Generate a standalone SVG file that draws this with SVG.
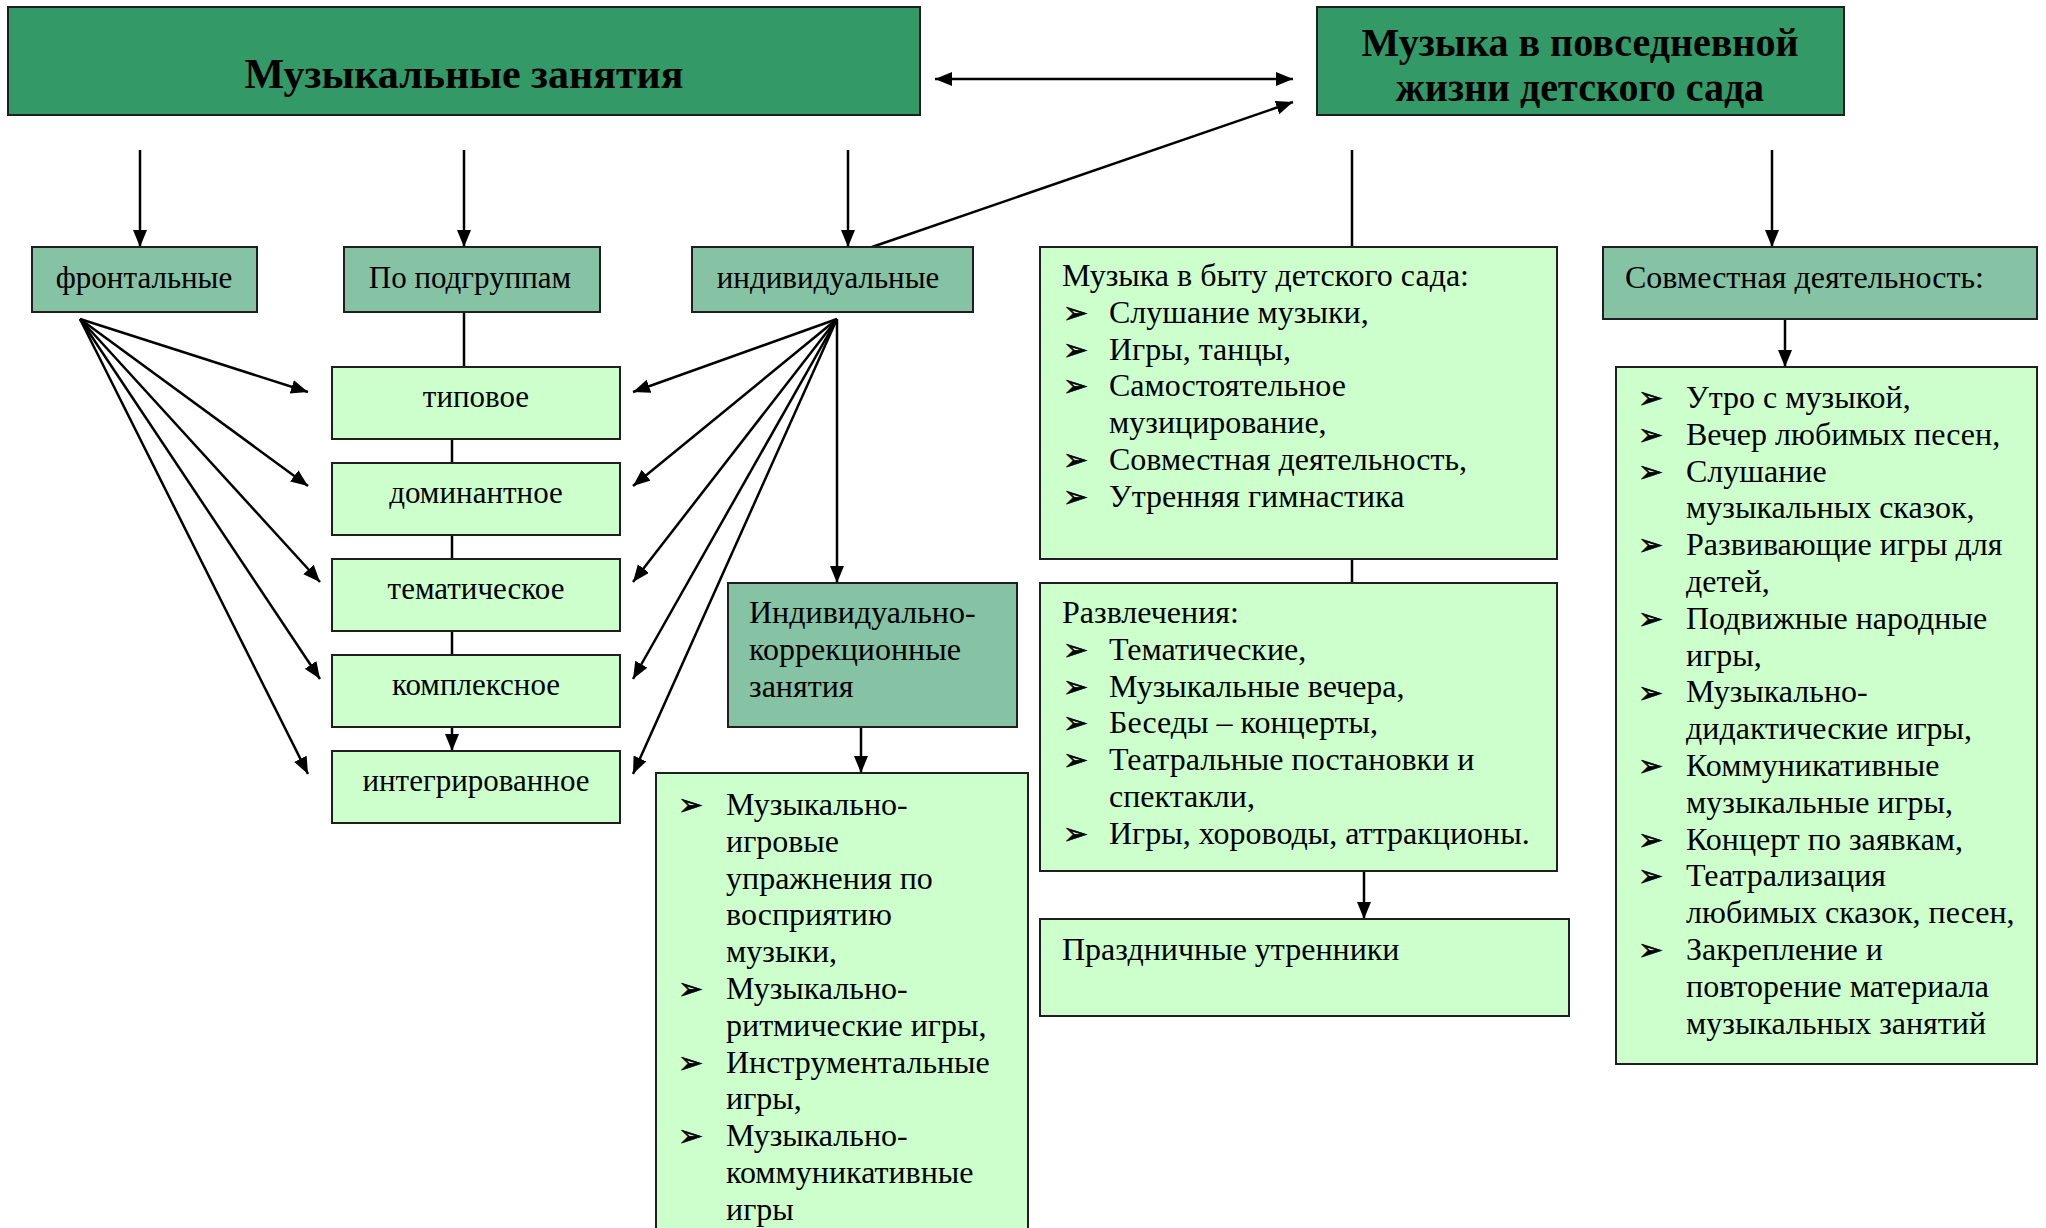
<svg xmlns="http://www.w3.org/2000/svg" width="2046" height="1228" viewBox="0 0 2046 1228">
<style>
.dark{fill:#339966;stroke:#1f1f1f;stroke-width:2}
.mid{fill:#86c2a4;stroke:#1f1f1f;stroke-width:2}
.light{fill:#ccffcc;stroke:#1f1f1f;stroke-width:2}
.t{font-family:"Liberation Serif","Times New Roman",serif;fill:#000}
.title{font-weight:bold}
.c{text-anchor:middle}
.s31{font-size:31px}
.s32{font-size:32px}
.b{font-family:"DejaVu Sans",sans-serif;font-size:30px;fill:#000;stroke:#000;stroke-width:0.6}
.ln{stroke:#000;stroke-width:2.5;fill:none}
.ar{stroke:#000;stroke-width:2.5;fill:none;marker-end:url(#ah)}
</style>
<defs>
<marker id="ah" markerUnits="userSpaceOnUse" markerWidth="20" markerHeight="16" refX="17" refY="7" orient="auto">
<path d="M0,0 L17,7 L0,14 z" fill="#000"/>
</marker>
<marker id="ahs" markerUnits="userSpaceOnUse" markerWidth="20" markerHeight="16" refX="0" refY="7" orient="auto">
<path d="M17,0 L0,7 L17,14 z" fill="#000"/>
</marker>
</defs>
<rect width="2046" height="1228" fill="#fff"/>

<g id="connectors">
<line class="ar" x1="935" y1="79" x2="1293" y2="79" marker-start="url(#ahs)"/>
<line class="ar" x1="872" y1="247" x2="1293" y2="102"/>
<line class="ar" x1="140" y1="150" x2="140" y2="247"/>
<line class="ar" x1="464" y1="150" x2="464" y2="247"/>
<line class="ar" x1="848" y1="150" x2="848" y2="247"/>
<line class="ln" x1="1352" y1="150" x2="1352" y2="247"/>
<line class="ar" x1="1772" y1="150" x2="1772" y2="247"/>
<line class="ln" x1="464" y1="312" x2="464" y2="367"/>
<line class="ln" x1="452" y1="439" x2="452" y2="463"/>
<line class="ln" x1="452" y1="535" x2="452" y2="559"/>
<line class="ln" x1="452" y1="631" x2="452" y2="655"/>
<line class="ar" x1="452" y1="727" x2="452" y2="751"/>
<line class="ar" x1="80" y1="319" x2="308" y2="392"/>
<line class="ar" x1="80" y1="319" x2="308" y2="486"/>
<line class="ar" x1="80" y1="319" x2="320" y2="582"/>
<line class="ar" x1="80" y1="319" x2="320" y2="679"/>
<line class="ar" x1="80" y1="319" x2="308" y2="774"/>
<line class="ar" x1="837" y1="319" x2="633" y2="392"/>
<line class="ar" x1="837" y1="319" x2="633" y2="486"/>
<line class="ar" x1="837" y1="319" x2="633" y2="582"/>
<line class="ar" x1="837" y1="319" x2="633" y2="679"/>
<line class="ar" x1="837" y1="319" x2="633" y2="774"/>
<line class="ar" x1="837" y1="319" x2="837" y2="583"/>
<line class="ar" x1="861" y1="727" x2="861" y2="773"/>
<line class="ln" x1="1352" y1="535" x2="1352" y2="583"/>
<line class="ar" x1="1364" y1="871" x2="1364" y2="919"/>
<line class="ar" x1="1785" y1="319" x2="1785" y2="367"/>
</g>

<g id="n-music-lessons">
<rect class="dark" x="8" y="7" width="912" height="108"/>
<text class="t title c" x="464" y="88" font-size="42">Музыкальные занятия</text>
</g>

<g id="n-music-daily">
<rect class="dark" x="1317" y="7" width="527" height="108"/>
<text class="t title c" x="1580" y="56" font-size="40">Музыка в повседневной</text>
<text class="t title c" x="1580" y="101" font-size="40">жизни детского сада</text>
</g>

<g id="n-frontal">
<rect class="mid" x="32" y="247" width="225" height="65"/>
<text class="t s31 c" x="144" y="288">фронтальные</text>
</g>
<g id="n-subgroups">
<rect class="mid" x="344" y="247" width="256" height="65"/>
<text class="t s31 c" x="470" y="288">По подгруппам</text>
</g>
<g id="n-individual">
<rect class="mid" x="692" y="247" width="281" height="65"/>
<text class="t s31 c" x="828" y="288">индивидуальные</text>
</g>

<g id="n-typical">
<rect class="light" x="332" y="367" width="288" height="72"/>
<text class="t s31 c" x="476" y="407">типовое</text>
</g>
<g id="n-dominant">
<rect class="light" x="332" y="463" width="288" height="72"/>
<text class="t s31 c" x="476" y="503">доминантное</text>
</g>
<g id="n-thematic">
<rect class="light" x="332" y="559" width="288" height="72"/>
<text class="t s31 c" x="476" y="599">тематическое</text>
</g>
<g id="n-complex">
<rect class="light" x="332" y="655" width="288" height="72"/>
<text class="t s31 c" x="476" y="695">комплексное</text>
</g>
<g id="n-integrated">
<rect class="light" x="332" y="751" width="288" height="72"/>
<text class="t s31 c" x="476" y="791">интегрированное</text>
</g>

<g id="n-correction">
<rect class="mid" x="728" y="583" width="289" height="144"/>
<text class="t s32" x="749" y="623">Индивидуально-</text>
<text class="t s32" x="749" y="660">коррекционные</text>
<text class="t s32" x="749" y="697">занятия</text>
</g>

<g id="n-correction-list">
<rect class="light" x="656" y="773" width="372" height="470"/>
<text class="b" x="678" y="815">➢</text>
<text class="b" x="678" y="999">➢</text>
<text class="b" x="678" y="1073">➢</text>
<text class="b" x="678" y="1146">➢</text>
<text class="t s32" x="726" y="815">Музыкально-<tspan x="726" dy="36.8">игровые</tspan><tspan x="726" dy="36.8">упражнения по</tspan><tspan x="726" dy="36.8">восприятию</tspan><tspan x="726" dy="36.8">музыки,</tspan><tspan x="726" dy="36.8">Музыкально-</tspan><tspan x="726" dy="36.8">ритмические игры,</tspan><tspan x="726" dy="36.8">Инструментальные</tspan><tspan x="726" dy="36.8">игры,</tspan><tspan x="726" dy="36.8">Музыкально-</tspan><tspan x="726" dy="36.8">коммуникативные</tspan><tspan x="726" dy="36.8">игры</tspan></text>
</g>

<g id="n-daily-life">
<rect class="light" x="1040" y="247" width="517" height="312"/>
<text class="t s32" x="1062" y="286">Музыка в быту детского сада:</text>
<text class="b" x="1063" y="323">➢</text>
<text class="b" x="1063" y="360">➢</text>
<text class="b" x="1063" y="396">➢</text>
<text class="b" x="1063" y="470">➢</text>
<text class="b" x="1063" y="507">➢</text>
<text class="t s32" x="1109" y="322.8">Слушание музыки,<tspan x="1109" dy="36.8">Игры, танцы,</tspan><tspan x="1109" dy="36.8">Самостоятельное</tspan><tspan x="1109" dy="36.8">музицирование,</tspan><tspan x="1109" dy="36.8">Совместная деятельность,</tspan><tspan x="1109" dy="36.8">Утренняя гимнастика</tspan></text>
</g>

<g id="n-entertainment">
<rect class="light" x="1040" y="583" width="517" height="288"/>
<text class="t s32" x="1062" y="623">Развлечения:</text>
<text class="b" x="1063" y="660">➢</text>
<text class="b" x="1063" y="697">➢</text>
<text class="b" x="1063" y="733">➢</text>
<text class="b" x="1063" y="770">➢</text>
<text class="b" x="1063" y="844">➢</text>
<text class="t s32" x="1109" y="659.8">Тематические,<tspan x="1109" dy="36.8">Музыкальные вечера,</tspan><tspan x="1109" dy="36.8">Беседы – концерты,</tspan><tspan x="1109" dy="36.8">Театральные постановки и</tspan><tspan x="1109" dy="36.8">спектакли,</tspan><tspan x="1109" dy="36.8">Игры, хороводы, аттракционы.</tspan></text>
</g>

<g id="n-matinees">
<rect class="light" x="1040" y="919" width="529" height="97"/>
<text class="t s32" x="1062" y="960">Праздничные утренники</text>
</g>

<g id="n-joint">
<rect class="mid" x="1603" y="247" width="434" height="72"/>
<text class="t s32" x="1625" y="288">Совместная деятельность:</text>
</g>

<g id="n-joint-list">
<rect class="light" x="1616" y="367" width="421" height="697"/>
<text class="b" x="1638" y="408">➢</text>
<text class="b" x="1638" y="445">➢</text>
<text class="b" x="1638" y="482">➢</text>
<text class="b" x="1638" y="555">➢</text>
<text class="b" x="1638" y="629">➢</text>
<text class="b" x="1638" y="703">➢</text>
<text class="b" x="1638" y="776">➢</text>
<text class="b" x="1638" y="850">➢</text>
<text class="b" x="1638" y="886">➢</text>
<text class="b" x="1638" y="960">➢</text>
<text class="t s32" x="1686" y="408">Утро с музыкой,<tspan x="1686" dy="36.8">Вечер любимых песен,</tspan><tspan x="1686" dy="36.8">Слушание</tspan><tspan x="1686" dy="36.8">музыкальных сказок,</tspan><tspan x="1686" dy="36.8">Развивающие игры для</tspan><tspan x="1686" dy="36.8">детей,</tspan><tspan x="1686" dy="36.8">Подвижные народные</tspan><tspan x="1686" dy="36.8">игры,</tspan><tspan x="1686" dy="36.8">Музыкально-</tspan><tspan x="1686" dy="36.8">дидактические игры,</tspan><tspan x="1686" dy="36.8">Коммуникативные</tspan><tspan x="1686" dy="36.8">музыкальные игры,</tspan><tspan x="1686" dy="36.8">Концерт по заявкам,</tspan><tspan x="1686" dy="36.8">Театрализация</tspan><tspan x="1686" dy="36.8">любимых сказок, песен,</tspan><tspan x="1686" dy="36.8">Закрепление и</tspan><tspan x="1686" dy="36.8">повторение материала</tspan><tspan x="1686" dy="36.8">музыкальных занятий</tspan></text>
</g>
</svg>
